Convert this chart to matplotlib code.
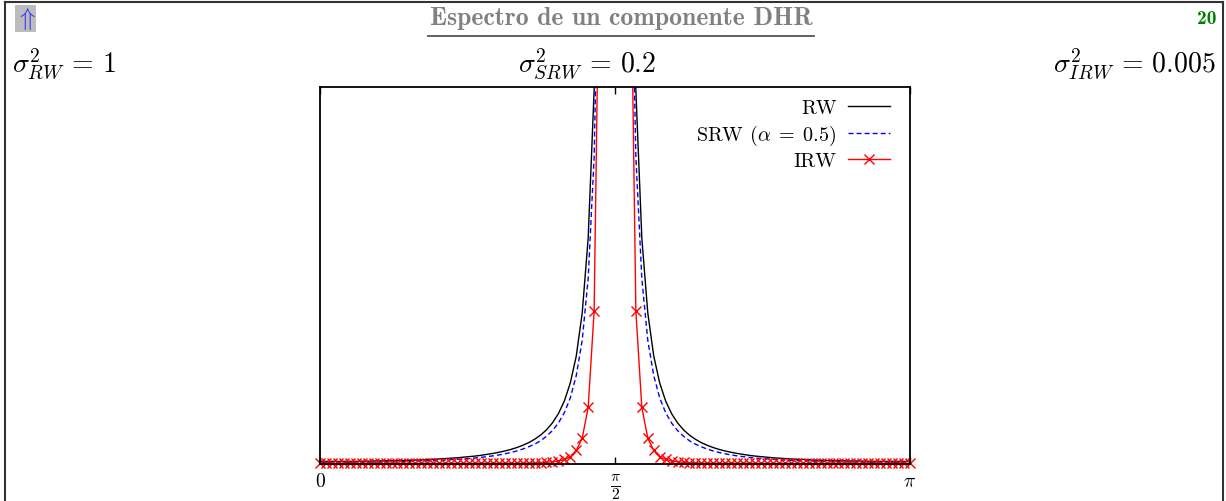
import numpy as np
import matplotlib
matplotlib.use('Agg')
import matplotlib.pyplot as plt
from matplotlib.lines import Line2D

W, H = 1226, 502

# frequency grid, 100 samples between 0 and pi
freq = np.linspace(0, np.pi, 100)

# spectra (0 .. pi/2, then pi/2 .. pi)
rw_low = [0.14, 0.14, 0.14, 0.14, 0.14, 0.14, 0.14, 0.15, 0.15, 0.16,
          0.16, 0.17, 0.17, 0.18, 0.19, 0.20, 0.21, 0.22, 0.24, 0.25,
          0.27, 0.29, 0.31, 0.33, 0.36, 0.39, 0.42, 0.46, 0.51, 0.56,
          0.62, 0.69, 0.77, 0.87, 0.99, 1.13, 1.31, 1.53, 1.81, 2.18,
          2.67, 3.34, 4.30, 5.73, 8.02, 11.99, 19.83, 38.9, 108.1, 973.3]
rw_high = [973.3, 108.1, 38.9, 19.83, 11.99, 8.02, 5.73, 4.30, 3.34, 2.67,
           2.18, 1.81, 1.53, 1.31, 1.13, 0.99, 0.87, 0.77, 0.69, 0.62,
           0.56, 0.51, 0.46, 0.42, 0.39, 0.36, 0.33, 0.31, 0.29, 0.27,
           0.25, 0.24, 0.22, 0.21, 0.20, 0.19, 0.18, 0.17, 0.17, 0.16,
           0.16, 0.15, 0.15, 0.14, 0.14, 0.14, 0.14, 0.14, 0.14, 0.14]

srw_low = [0.08, 0.08, 0.08, 0.09, 0.09, 0.09, 0.09, 0.09, 0.10, 0.10,
           0.11, 0.11, 0.12, 0.12, 0.13, 0.14, 0.15, 0.16, 0.17, 0.18,
           0.19, 0.21, 0.23, 0.25, 0.27, 0.29, 0.32, 0.35, 0.39, 0.43,
           0.48, 0.54, 0.61, 0.69, 0.79, 0.91, 1.05, 1.23, 1.47, 1.77,
           2.17, 2.72, 3.51, 4.69, 6.57, 9.84, 16.29, 31.98, 88.9, 800.9]
srw_high = [800.9, 88.9, 31.98, 16.29, 9.84, 6.57, 4.69, 3.51, 2.72, 2.17,
            1.77, 1.47, 1.23, 1.05, 0.91, 0.79, 0.69, 0.61, 0.54, 0.48,
            0.43, 0.39, 0.35, 0.32, 0.29, 0.27, 0.25, 0.23, 0.21, 0.19,
            0.18, 0.17, 0.16, 0.15, 0.14, 0.13, 0.12, 0.12, 0.11, 0.11,
            0.10, 0.10, 0.09, 0.09, 0.09, 0.09, 0.09, 0.08, 0.08, 0.08]

irw_low = [0.03, 0.03, 0.03, 0.03, 0.03, 0.03, 0.03, 0.03, 0.03, 0.03,
           0.03, 0.03, 0.03, 0.03, 0.03, 0.03, 0.03, 0.03, 0.03, 0.03,
           0.03, 0.03, 0.03, 0.03, 0.03, 0.03, 0.04, 0.04, 0.04, 0.04,
           0.04, 0.04, 0.04, 0.04, 0.04, 0.05, 0.06, 0.07, 0.09, 0.12,
           0.16, 0.24, 0.38, 0.72, 1.37, 3.01, 8.11, 30.96, 238.0, 19258.0]
irw_high = [19258.0, 238.0, 30.96, 8.11, 3.01, 1.37, 0.72, 0.38, 0.24, 0.16,
            0.12, 0.09, 0.07, 0.06, 0.05, 0.04, 0.04, 0.04, 0.04, 0.04,
            0.04, 0.04, 0.04, 0.04, 0.03, 0.03, 0.03, 0.03, 0.03, 0.03,
            0.03, 0.03, 0.03, 0.03, 0.03, 0.03, 0.03, 0.03, 0.03, 0.03,
            0.03, 0.03, 0.03, 0.03, 0.03, 0.03, 0.03, 0.03, 0.03, 0.03]

rw = np.array(rw_low + rw_high)
srw = np.array(srw_low + srw_high)
irw = np.array(irw_low + irw_high)

YMAX = 20

plt.rcParams['font.family'] = 'serif'
plt.rcParams['font.serif'] = ['cmr10']
plt.rcParams['mathtext.fontset'] = 'cm'
plt.rcParams['axes.unicode_minus'] = False


def fx(px):
    return px / W


def fy(py):
    return 1 - py / H


fig = plt.figure(figsize=(W / 100, H / 100), dpi=100)

# slide frame
for xs, ys in [([5.5, 5.5], [3, H]), ([1223, 1223], [3, H]), ([5.5, 1223], [3, 3])]:
    fig.add_artist(Line2D([fx(v) for v in xs], [fy(v) for v in ys],
                          transform=fig.transFigure, color='#333333', lw=1.5))

# header
fig.text(fx(15), fy(19), r'$\Uparrow$', color='#2a2aff', fontsize=18,
         ha='left', va='center',
         bbox=dict(facecolor='#bcbcbc', edgecolor='none', pad=0.4))
fig.text(fx(621), fy(19), 'Espectro de un componente DHR', family='cmb10',
         color='#808080', fontsize=18.5, ha='center', va='center')
fig.add_artist(Line2D([fx(428), fx(814)], [fy(37), fy(37)],
                      transform=fig.transFigure, color='#555555', lw=1.3))
fig.text(fx(1216), fy(19), '20', family='cmb10', color='#008000',
         fontsize=14, ha='right', va='center')

fig.text(fx(12), fy(64), r'$\sigma^2_{RW}\,=\,1$', fontsize=20, ha='left', va='center')
fig.text(fx(587), fy(64), r'$\sigma^2_{SRW}\,=\,0.2$', fontsize=20, ha='center', va='center')
fig.text(fx(1216), fy(64), r'$\sigma^2_{IRW}\,=\,0.005$', fontsize=20, ha='right', va='center')

ax = fig.add_axes([fx(320), fy(465), (910 - 320) / W, (465 - 88) / H])

ax.plot(freq, rw, color='black', lw=1.0)
ax.plot(freq, srw, color='#0000ff', lw=1.0, dashes=(3.6, 2.2))
ax.plot(freq, irw, color='#ff0000', lw=1.0)
vis = irw <= YMAX
ax.plot(freq[vis], irw[vis], ls='none', marker='x', ms=6.5, mew=1.0,
        color='#ff0000', clip_on=False)

ax.set_xlim(0, np.pi)
ax.set_ylim(0, YMAX)
ax.set_yticks([])
ax.set_xticks([0, np.pi / 2, np.pi])
ticklabels = ax.set_xticklabels([r'$0$', r'$\frac{\pi}{2}$', r'$\pi$'], fontsize=14)
ticklabels[1].set_fontsize(16)
ax.tick_params(axis='x', direction='in', top=True, length=5, width=1, pad=6)
for s in ax.spines.values():
    s.set_linewidth(1.3)

handles = [Line2D([], [], color='black', lw=1.0),
           Line2D([], [], color='#0000ff', lw=1.0, dashes=(3.6, 2.2)),
           Line2D([], [], color='#ff0000', lw=1.0, marker='x', ms=6.5, mew=1.0)]
labels = ['RW', r'SRW ($\alpha\;=\;0.5$)', 'IRW']
ax.legend(handles, labels, loc='upper right', bbox_to_anchor=(0.966, 0.968),
          frameon=False, markerfirst=False, fontsize=14.5, handlelength=2.1,
          handletextpad=0.55, borderpad=0, borderaxespad=0, labelspacing=0.27)

fig.savefig('out.png', dpi=100)
